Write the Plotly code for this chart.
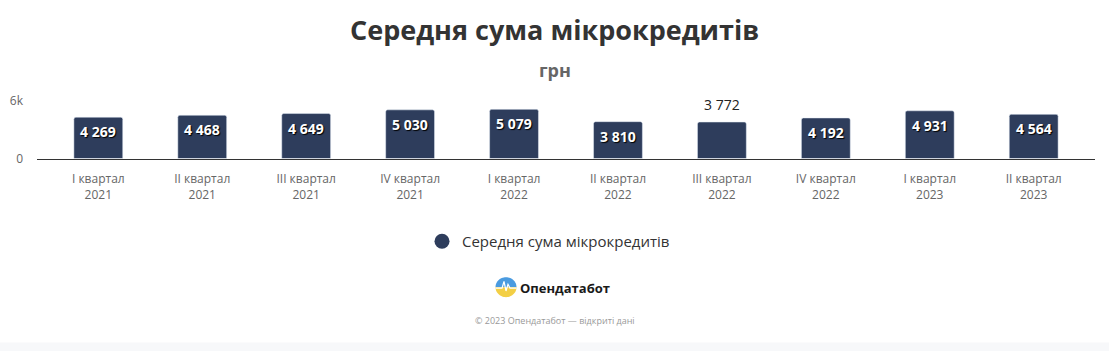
import math
import plotly.graph_objects as go

# ---- data ----
quarters = ["I квартал<br>2021", "II квартал<br>2021", "III квартал<br>2021", "IV квартал<br>2021",
            "I квартал<br>2022", "II квартал<br>2022", "III квартал<br>2022", "IV квартал<br>2022",
            "I квартал<br>2023", "II квартал<br>2023"]
values = [4269, 4468, 4649, 5030, 5079, 3810, 3772, 4192, 4931, 4564]
series_name = "Середня сума мікрокредитів"
title_text = "Середня сума мікрокредитів"
subtitle_text = "грн"
y_tickvals = [0, 6000]
y_ticktext = ["0", "6k"]
outside_label_idx = [6]

W, H = 1109, 359
FONT = "Open Sans, Segoe UI, sans-serif"
BAR = "#2e3d5c"


def px(x):
    return x / W


def py(y):
    return 1 - y / H


def fmt(v):
    return f"{v:,}".replace(",", " ")


x_idx = list(range(len(values)))

fig = go.Figure()
fig.add_trace(go.Bar(
    x=x_idx, y=values, name=series_name, marker=dict(color=BAR, cornerradius=2),
    width=0.47, showlegend=False, hoverinfo="skip"))
fig.add_trace(go.Scatter(
    x=[None], y=[None], mode="markers", name=series_name,
    marker=dict(symbol="circle", size=15, color=BAR), showlegend=True))

annotations = []
for i, v in enumerate(values):
    if i in outside_label_idx:
        annotations.append(dict(x=i, y=v, xref="x", yref="y", text=fmt(v), showarrow=False,
                                yanchor="bottom", yshift=6,
                                font=dict(family=FONT, size=14, color="#222")))
    else:
        annotations.append(dict(x=i, y=v, xref="x", yref="y", text=f"<b>{fmt(v)}</b>", showarrow=False,
                                yanchor="top", yshift=-3,
                                font=dict(family=FONT, size=14, color="#ffffff",
                                          shadow="1px 1px 1px #000")))

annotations += [
    dict(x=0.5, y=py(22), xref="paper", yref="paper", text=f"<b>{title_text}</b>", showarrow=False,
         yanchor="middle", font=dict(family=FONT, size=27, color="#333333")),
    dict(x=0.5, y=py(64), xref="paper", yref="paper", text=f"<b>{subtitle_text}</b>", showarrow=False,
         yanchor="middle", font=dict(family=FONT, size=18, color="#666666")),
    dict(x=px(565), y=py(293), xref="paper", yref="paper", text="<b>Опендатабот</b>", showarrow=False,
         yanchor="middle", font=dict(family=FONT, size=13, color="#1a1a1a")),
    dict(x=0.5, y=py(327), xref="paper", yref="paper", text="© 2023 Опендатабот — відкриті дані",
         showarrow=False, yanchor="middle", font=dict(family=FONT, size=9, color="#999999")),
]


def arc_path(cx, cy, r, a0, a1, n=30):
    pts = []
    for k in range(n + 1):
        a = a0 + (a1 - a0) * k / n
        pts.append((px(cx + r * math.cos(a)), py(cy - r * math.sin(a))))
    d = "M " + " L ".join(f"{x:.5f},{y:.5f}" for x, y in pts) + " Z"
    return d


cx, cy, r = 506, 292, 10.5
shapes = [
    dict(type="rect", xref="paper", yref="paper", x0=0, x1=1, y0=0, y1=py(350),
         fillcolor="#f7f8fa", line=dict(width=0), layer="below"),
    dict(type="path", xref="paper", yref="paper", path=arc_path(cx, cy, r, 0, math.pi),
         fillcolor="#4a9be0", line=dict(width=0)),
    dict(type="path", xref="paper", yref="paper", path=arc_path(cx, cy, r, math.pi, 2 * math.pi),
         fillcolor="#f3cf45", line=dict(width=0)),
    dict(type="path", xref="paper", yref="paper",
         path=("M " + " L ".join(f"{px(x):.5f},{py(y):.5f}" for x, y in
                                 [(cx - r, cy + 1), (cx - 4, cy + 1), (cx - 2, cy - 6), (cx, cy + 4),
                                  (cx + 2, cy - 3), (cx + 4, cy + 1), (cx + r, cy + 1)])),
         line=dict(color="#ffffff", width=1.2)),
]

fig.update_layout(
    width=W, height=H, autosize=False,
    margin=dict(l=0, r=0, t=0, b=0),
    paper_bgcolor="#ffffff", plot_bgcolor="#ffffff",
    font=dict(family=FONT, color="#666666"),
    xaxis=dict(domain=[px(37), px(1095)], range=[-0.59, 9.59], tickmode="array",
               tickvals=x_idx, ticktext=quarters, showgrid=False, showline=True,
               linecolor="#333333", linewidth=1, ticks="", zeroline=False,
               tickfont=dict(family=FONT, size=12, color="#666666"), ticklabelstandoff=9,
               fixedrange=True),
    yaxis=dict(domain=[py(157), py(96)], range=[0, 6000], tickmode="array",
               tickvals=y_tickvals, ticktext=y_ticktext, showgrid=True, gridcolor="#e6e6e6",
               zeroline=False, showline=False, ticks="", ticklabelstandoff=13,
               tickfont=dict(family=FONT, size=12, color="#666666"), fixedrange=True),
    legend=dict(orientation="h", x=0.5 - 6 / W, xanchor="center", y=py(244), yanchor="middle",
                font=dict(family=FONT, size=15, color="#333333"), bgcolor="rgba(0,0,0,0)"),
    annotations=annotations,
    shapes=shapes,
    bargap=0.53,
)

fig.write_html("out.html", config={"displayModeBar": False},
               post_script="document.body.style.margin='0';document.body.style.overflow='hidden';")
